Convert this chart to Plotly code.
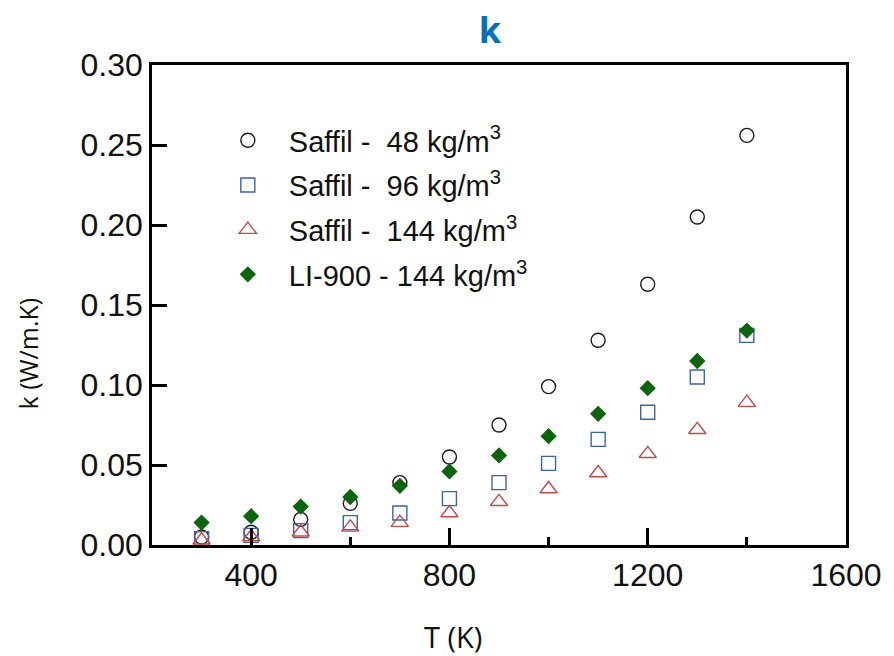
import plotly.graph_objects as go

# Temperature grid (K)
temps = [300, 400, 500, 600, 700, 800, 900, 1000, 1100, 1200, 1300, 1400]

# Thermal conductivity k (W/m.K) for each insulation sample
k_saffil_48 = [0.005, 0.008, 0.016, 0.026, 0.039, 0.055, 0.075, 0.099, 0.128, 0.163, 0.205, 0.256]
k_saffil_96 = [0.004, 0.006, 0.009, 0.014, 0.020, 0.029, 0.039, 0.051, 0.066, 0.083, 0.105, 0.131]
k_saffil_144 = [0.003, 0.005, 0.008, 0.011, 0.014, 0.020, 0.027, 0.035, 0.045, 0.057, 0.072, 0.089]
k_li900_144 = [0.014, 0.018, 0.024, 0.030, 0.037, 0.046, 0.056, 0.068, 0.082, 0.098, 0.115, 0.134]

series_names = [
    "Saffil -  48 kg/m<sup>3</sup>",
    "Saffil -  96 kg/m<sup>3</sup>",
    "Saffil -  144 kg/m<sup>3</sup>",
    "LI-900 - 144 kg/m<sup>3</sup>",
]
series_values = [k_saffil_48, k_saffil_96, k_saffil_144, k_li900_144]

x_tickvals = [400, 800, 1200, 1600]
y_tickvals = [0.00, 0.05, 0.10, 0.15, 0.20, 0.25, 0.30]

styles = [
    dict(symbol="circle-open", color="#1a1a1a", size=14),
    dict(symbol="square-open", color="#3B62AE", size=14),
    dict(symbol="triangle-up-open", color="#C24B4B", size=15),
    dict(symbol="diamond", color="#0B650B", size=11),
]

fig = go.Figure()
for i, (name, vals, st) in enumerate(zip(series_names, series_values, styles)):
    fig.add_trace(go.Scatter(
        x=temps, y=vals, mode="markers", name=name,
        legendgroup=f"g{i}",
        marker=dict(symbol=st["symbol"], color=st["color"], size=st["size"],
                    line=dict(width=1.4, color=st["color"])),
    ))

tick_font = dict(family="Liberation Sans, Arial, sans-serif", size=32, color="#111111")
label_font = dict(family="Open Sans, sans-serif", size=29, color="#111111")

fig.update_layout(
    width=894, height=656,
    margin=dict(l=152, r=44, t=65, b=111),
    paper_bgcolor="white", plot_bgcolor="white",
    title=dict(text="<b>k</b>", x=490 / 894, xref="container", xanchor="center",
               y=1 - 30 / 656, yref="container", yanchor="middle",
               font=dict(family="Open Sans, sans-serif", size=36, color="#0070C0")),
    legend=dict(x=0.079, y=0.896, xanchor="left", yanchor="top",
                bgcolor="rgba(0,0,0,0)", borderwidth=0,
                itemwidth=72, tracegroupgap=4,
                font=dict(family="Liberation Sans, Arial, sans-serif", size=29, color="#111111")),
    showlegend=True,
    annotations=[
        dict(text="T (K)", xref="paper", yref="paper", x=0.433, y=-0.19,
             xanchor="center", yanchor="middle", showarrow=False, font=label_font),
        dict(text="k (W/m.K)", xref="paper", yref="paper", x=-0.178, y=0.40,
             xanchor="center", yanchor="middle", textangle=-90, showarrow=False,
             font=dict(family="Open Sans, sans-serif", size=25, color="#111111")),
    ],
)

fig.update_xaxes(
    range=[200, 1600], tickvals=x_tickvals, ticks="inside", ticklen=17, tickwidth=2.5,
    tickcolor="black", showline=True, linecolor="black", linewidth=2.5, mirror=True,
    showgrid=False, zeroline=False, tickfont=tick_font,
    minor=dict(dtick=200, tick0=200, ticks="inside", ticklen=8, tickwidth=2.5, tickcolor="black",
               showgrid=False),
)
fig.update_yaxes(
    range=[0, 0.30], tickvals=y_tickvals, tickformat=".2f", ticks="inside", ticklen=15,
    tickwidth=2.5, tickcolor="black", showline=True, linecolor="black", linewidth=2.5,
    mirror=True, showgrid=False, zeroline=False, tickfont=tick_font,
)

fig.write_html("out.html")
